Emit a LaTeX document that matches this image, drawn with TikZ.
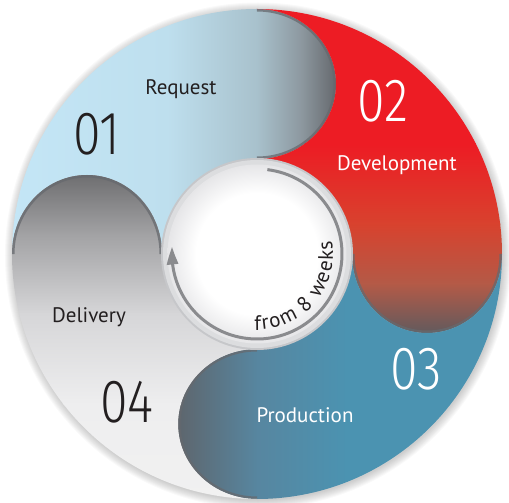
\documentclass[tikz,border=0pt]{standalone}
\usepackage{fontspec}
\usepackage{graphicx}
\setmainfont{PT Sans}
\IfFontExistsTF{Fira Sans Light}{\newfontfamily\digitfont{Fira Sans Light}}{\newfontfamily\digitfont{Fira Sans}}
\usetikzlibrary{arrows.meta,bending,decorations.text}
\definecolor{cDark}{HTML}{231F20}
\definecolor{rqA}{HTML}{C4E6F6}
\definecolor{rqB}{HTML}{BEDFEE}
\definecolor{rqC}{HTML}{A8C1CC}
\definecolor{rqD}{HTML}{8C979E}
\definecolor{rqE}{HTML}{63666B}
\definecolor{dvA}{HTML}{ED1C24}
\definecolor{dvB}{HTML}{D8422E}
\definecolor{dvC}{HTML}{B35A47}
\definecolor{dvD}{HTML}{5F5A5E}
\definecolor{prA}{HTML}{5E656C}
\definecolor{prB}{HTML}{5786A0}
\definecolor{prC}{HTML}{4B93B1}
\definecolor{dlA}{HTML}{6D6D6F}
\definecolor{dlB}{HTML}{A2A2A4}
\definecolor{dlC}{HTML}{D6D6D8}
\definecolor{dlD}{HTML}{EEEEEF}
\definecolor{dlE}{HTML}{F1F1F1}
\definecolor{ringA}{HTML}{C6C7CA}
\definecolor{ringB}{HTML}{DCDDDF}
\definecolor{inEdge}{HTML}{E6E6E8}
\definecolor{arrowGray}{HTML}{8A8B8E}
\definecolor{rimGray}{HTML}{66696E}
\pgfdeclareradialshading{innerglow}{\pgfpoint{0bp}{0bp}}{color(0bp)=(white); color(17bp)=(white); color(25bp)=(inEdge); color(50bp)=(inEdge)}
% segment outlines
\def\reqpath{(180:245) arc[start angle=180,end angle=90,radius=245]
  arc[start angle=90,end angle=-90,x radius=79,y radius=75]
  arc[start angle=90,end angle=180,radius=95]
  arc[start angle=0,end angle=180,x radius=75,y radius=79] -- cycle}
\def\devpath{(90:245) arc[start angle=90,end angle=0,radius=245]
  arc[start angle=0,end angle=-180,x radius=75,y radius=79]
  arc[start angle=0,end angle=90,radius=95]
  arc[start angle=-90,end angle=90,x radius=79,y radius=75] -- cycle}
\def\propath{(0:245) arc[start angle=0,end angle=-90,radius=245]
  arc[start angle=-90,end angle=-270,x radius=79,y radius=75]
  arc[start angle=-90,end angle=0,radius=95]
  arc[start angle=-180,end angle=0,x radius=75,y radius=79] -- cycle}
\def\delpath{(-90:245) arc[start angle=-90,end angle=-180,radius=245]
  arc[start angle=180,end angle=0,x radius=75,y radius=79]
  arc[start angle=180,end angle=270,radius=95]
  arc[start angle=90,end angle=270,x radius=79,y radius=75] -- cycle}
\begin{document}
\begin{tikzpicture}[x=1pt,y=1pt,
  lbl/.style={font=\fontsize{21}{21}\selectfont, inner sep=0pt, anchor=base},
  num/.style={font=\digitfont\fontsize{61}{61}\selectfont, inner sep=0pt, anchor=base},
  rim/.style={draw=rimGray, line width=5pt, opacity=0.75},
  cycarrow/.style={draw=arrowGray, line width=3pt, -{Triangle[length=18pt,width=11pt,bend]}}]
\useasboundingbox (-257,-249) rectangle (252,254);
% soft outer shadow
\foreach \k in {1,...,9} {\fill[black,opacity=0.022] (1,-1.5) circle[radius=244+\k];}
% 01 Request
\begin{scope}
  \clip \reqpath;
  \shade[left color=rqA, right color=rqB] (-250,-100) rectangle (-89.5,250);
  \shade[left color=rqB, right color=rqC] (-90,-100) rectangle (0.5,250);
  \shade[left color=rqC, right color=rqD] (0,-100) rectangle (45.5,250);
  \shade[left color=rqD, right color=rqE] (45,-100) rectangle (81,250);
  \path[rim] (0,245) arc[start angle=90,end angle=-90,x radius=79,y radius=75];
\end{scope}
% 02 Development
\begin{scope}
  \clip \devpath;
  \fill[dvA] (-5,109.5) rectangle (250,250);
  \shade[top color=dvA, bottom color=dvB] (-5,29.5) rectangle (250,110);
  \shade[top color=dvB, bottom color=dvC] (-5,-30.5) rectangle (250,30);
  \shade[top color=dvC, bottom color=dvD] (-5,-81) rectangle (250,-30);
  \path[rim] (245,0) arc[start angle=0,end angle=-180,x radius=75,y radius=79];
\end{scope}
% 03 Production
\begin{scope}
  \clip \propath;
  \shade[left color=prA, right color=prB] (-81,-250) rectangle (0.5,5);
  \shade[left color=prB, right color=prC] (0,-250) rectangle (90.5,5);
  \fill[prC] (90,-250) rectangle (250,5);
  \path[rim] (0,-245) arc[start angle=-90,end angle=-270,x radius=79,y radius=75];
\end{scope}
% 04 Delivery
\begin{scope}
  \clip \delpath;
  \shade[top color=dlA, bottom color=dlB] (-250,19.5) rectangle (5,81);
  \shade[top color=dlB, bottom color=dlC] (-250,-60.5) rectangle (5,20);
  \shade[top color=dlC, bottom color=dlD] (-250,-150.5) rectangle (5,-60);
  \shade[top color=dlD, bottom color=dlE] (-250,-250) rectangle (5,-150);
  \path[rim] (-245,0) arc[start angle=180,end angle=0,x radius=75,y radius=79];
\end{scope}
% centre ring
\fill[ringA] (0,0) circle[radius=96];
\fill[ringB] (0,0) circle[radius=94];
\shade[shading=innerglow] (0,0) circle[radius=89.5];
\draw[cycarrow] (83:85) arc[start angle=83,end angle=-185,radius=85];
\path[decorate, decoration={text along path, text color=cDark,
   text={|\fontsize{21}{21}\selectfont|from 8 weeks}, text align={fit to path}}]
   (-92:76) arc[start angle=-92,end angle=10,radius=76];
% labels
\node[lbl, text=cDark] (req) at (-76,159) {Request};
\node[num, text=cDark] (n01) at (-160,99) {\scalebox{0.82}[1]{01}};
\node[num, text=white] (n02) at (126,132) {\scalebox{0.82}[1]{02}};
\node[lbl, text=white] (dev) at (140,83) {Development};
\node[num, text=white] (n03) at (159,-136) {\scalebox{0.82}[1]{03}};
\node[lbl, text=white] (pro) at (48,-169) {Production};
\node[num, text=cDark] (n04) at (-130,-169) {\scalebox{0.82}[1]{04}};
\node[lbl, text=cDark] (del) at (-168,-69) {Delivery};
\end{tikzpicture}
\end{document}
